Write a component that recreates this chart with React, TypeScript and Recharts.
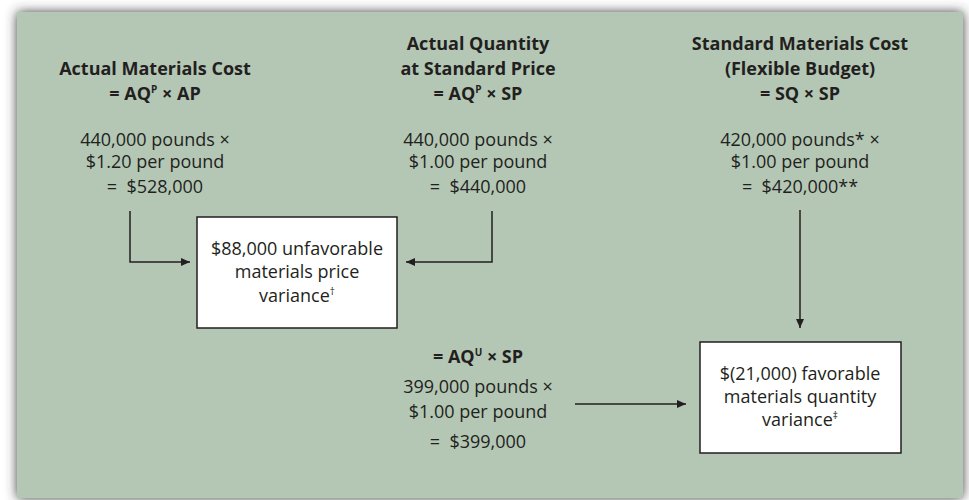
import React from 'react';
import { ScatterChart, Scatter, XAxis, YAxis, ReferenceArea } from 'recharts';

// ---------- diagram content ----------
const headerActualCost = ['Actual Materials Cost', '= AQ^P × AP'];
const headerActualQtyStdPrice = ['Actual Quantity', 'at Standard Price', '= AQ^P × SP'];
const headerStandardCost = ['Standard Materials Cost', '(Flexible Budget)', '= SQ × SP'];
const calcActualCost = ['440,000 pounds ×', '$1.20 per pound', '=  $528,000'];
const calcActualQtyStdPrice = ['440,000 pounds ×', '$1.00 per pound', '=  $440,000'];
const calcStandardCost = ['420,000 pounds* ×', '$1.00 per pound', '=  $420,000**'];
const headerUsed = ['= AQ^U × SP'];
const calcUsed = ['399,000 pounds ×', '$1.00 per pound', '=  $399,000'];
const priceVarianceText = ['$88,000 unfavorable', 'materials price', 'variance^†'];
const quantityVarianceText = ['$(21,000) favorable', 'materials quantity', 'variance^‡'];

// ---------- layout (diagram coordinates, 969 x 500) ----------
const W = 969;
const H = 500;
const FONT = '"Open Sans", "Noto Sans", sans-serif';
const INK = '#231f20';
const PANEL = '#b4c7b5';

type Block = { lines: string[]; x: number; ys: number[]; bold: boolean };
const blocks: Block[] = [
  { lines: headerActualCost, x: 155, ys: [75, 100], bold: true },
  { lines: headerActualQtyStdPrice, x: 478, ys: [50, 75, 100], bold: true },
  { lines: headerStandardCost, x: 800, ys: [50, 75, 100], bold: true },
  { lines: calcActualCost, x: 155, ys: [146, 168, 193], bold: false },
  { lines: calcActualQtyStdPrice, x: 478, ys: [146, 168, 193], bold: false },
  { lines: calcStandardCost, x: 800, ys: [146, 168, 193], bold: false },
  { lines: headerUsed, x: 478, ys: [363], bold: true },
  { lines: calcUsed, x: 478, ys: [393, 418, 448], bold: false },
  { lines: priceVarianceText, x: 297, ys: [255, 278, 302], bold: false },
  { lines: quantityVarianceText, x: 800, ys: [380, 403, 426], bold: false },
];

const textData = blocks.flatMap((b) =>
  b.lines.map((t, i) => ({ x: b.x, y: b.ys[i], text: t, bold: b.bold }))
);

const boxes = [
  { x1: 197, x2: 397, y1: 217, y2: 328 },
  { x1: 700, x2: 901, y1: 342, y2: 453 },
];

type Pt = { x: number; y: number; head?: 'left' | 'right' | 'down' };
const connectors: Pt[][] = [
  [{ x: 130, y: 211 }, { x: 130, y: 262 }, { x: 190, y: 262, head: 'right' }],
  [{ x: 492, y: 211 }, { x: 492, y: 262 }, { x: 406, y: 262, head: 'left' }],
  [{ x: 800, y: 210 }, { x: 800, y: 328, head: 'down' }],
  [{ x: 575, y: 404 }, { x: 686, y: 404, head: 'right' }],
];

// ---------- rendering helpers ----------
type Seg = { t: string; sup: boolean };
function parse(s: string): Seg[] {
  const out: Seg[] = [];
  let buf = '';
  for (let i = 0; i < s.length; i++) {
    if (s[i] === '^' && i + 1 < s.length) {
      if (buf) out.push({ t: buf, sup: false });
      buf = '';
      out.push({ t: s[i + 1], sup: true });
      i++;
    } else buf += s[i];
  }
  if (buf) out.push({ t: buf, sup: false });
  return out;
}

const FS = 18;
const TextShape = (p: any) => {
  const { cx, cy, payload } = p;
  const segs = parse(payload.text);
  let shifted = false;
  return (
    <text
      x={cx}
      y={cy}
      textAnchor="middle"
      fontFamily={FONT}
      fontSize={FS}
      fontWeight={payload.bold ? 700 : 400}
      fill={INK}
      style={{ whiteSpace: 'pre' }}
    >
      {segs.map((s, i) => {
        let dy = 0;
        if (s.sup && !shifted) {
          dy = -7;
          shifted = true;
        } else if (!s.sup && shifted) {
          dy = 7;
          shifted = false;
        }
        return (
          <tspan key={i} dy={dy} fontSize={s.sup ? 10 : FS}>
            {s.t}
          </tspan>
        );
      })}
    </text>
  );
};

const ArrowShape = (p: any) => {
  const { cx, cy, payload } = p;
  const h = payload.head;
  if (!h) return <g />;
  const L = 9;
  const w = 4;
  let pts = '';
  if (h === 'right') pts = `${cx},${cy} ${cx - L},${cy - w} ${cx - L},${cy + w}`;
  if (h === 'left') pts = `${cx},${cy} ${cx + L},${cy - w} ${cx + L},${cy + w}`;
  if (h === 'down') pts = `${cx},${cy} ${cx - w},${cy - L} ${cx + w},${cy - L}`;
  return <polygon points={pts} fill={INK} />;
};

const PanelShape = (p: any) => {
  const { x, y, width, height } = p;
  return (
    <g>
      <defs>
        <filter id="panelShadow" x="-5%" y="-10%" width="110%" height="120%">
          <feDropShadow dx="0" dy="0" stdDeviation="6" floodColor="#333333" floodOpacity="0.95" />
        </filter>
      </defs>
      <rect x={x} y={y} width={width} height={height} fill={PANEL} filter="url(#panelShadow)" />
    </g>
  );
};

export default function App() {
  return (
    <div style={{ position: 'fixed', left: 0, top: 0, width: W, height: H, background: '#ffffff' }}>
      <ScatterChart width={W} height={H} margin={{ top: 0, right: 0, bottom: 0, left: 0 }}>
        <XAxis type="number" dataKey="x" domain={[0, W]} hide allowDataOverflow />
        <YAxis type="number" dataKey="y" domain={[0, H]} reversed hide allowDataOverflow />
        <ReferenceArea x1={17} x2={963} y1={12} y2={498} shape={PanelShape} ifOverflow="visible" />
        {boxes.map((b, i) => (
          <ReferenceArea
            key={`box${i}`}
            x1={b.x1}
            x2={b.x2}
            y1={b.y1}
            y2={b.y2}
            fill="#ffffff"
            fillOpacity={1}
            stroke={INK}
            strokeWidth={1.5}
            ifOverflow="visible"
          />
        ))}
        {connectors.map((c, i) => (
          <Scatter
            key={`conn${i}`}
            data={c}
            line={{ stroke: INK, strokeWidth: 1.5 }}
            lineType="joint"
            lineJointType="linear"
            shape={ArrowShape}
            isAnimationActive={false}
          />
        ))}
        <Scatter data={textData} shape={TextShape} isAnimationActive={false} />
      </ScatterChart>
    </div>
  );
}
